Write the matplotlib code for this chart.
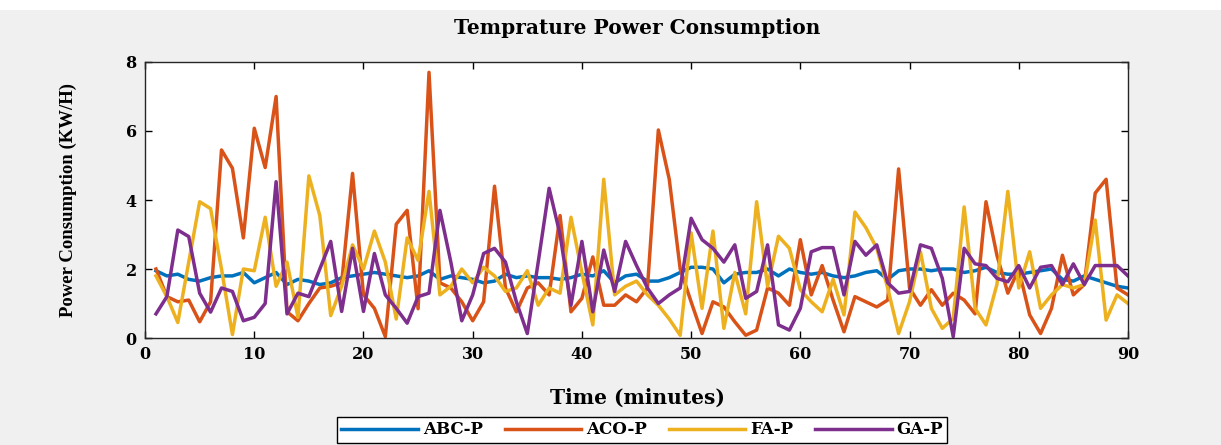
import numpy as np
import matplotlib.pyplot as plt
from matplotlib.patches import Rectangle

# time axis (minutes)
t = np.arange(1, 91)

abc_p = [1.95, 1.8, 1.85, 1.7, 1.65, 1.75, 1.8, 1.8, 1.9, 1.6,
         1.75, 1.9, 1.55, 1.7, 1.65, 1.55, 1.6, 1.75, 1.8, 1.85,
         1.9, 1.85, 1.8, 1.75, 1.8, 1.95, 1.7, 1.8, 1.75, 1.7,
         1.6, 1.65, 1.85, 1.75, 1.8, 1.75, 1.75, 1.7, 1.75, 1.85,
         1.8, 1.95, 1.6, 1.8, 1.85, 1.65, 1.65, 1.75, 1.9, 2.05,
         2.05, 2.0, 1.6, 1.85, 1.9, 1.9, 2.0, 1.8, 2.0, 1.9,
         1.85, 1.9, 1.8, 1.75, 1.8, 1.9, 1.95, 1.7, 1.95, 2.0,
         2.0, 1.95, 2.0, 2.0, 1.9, 1.95, 2.05, 1.9, 1.85, 1.85,
         1.9, 1.95, 2.0, 1.7, 1.65, 1.8, 1.7, 1.6, 1.5, 1.45]

aco_p = [2.0, 1.2, 1.05, 1.1, 0.47, 1.05, 5.45, 4.92, 2.9, 6.08,
         4.94, 7.0, 0.76, 0.5, 1.0, 1.45, 1.5, 1.6, 4.77, 1.25,
         0.86, 0.04, 3.3, 3.7, 0.85, 7.7, 1.6, 1.45, 1.05, 0.5,
         1.05, 4.4, 1.45, 0.76, 1.45, 1.6, 1.25, 3.55, 0.76, 1.15,
         2.35, 0.95, 0.95, 1.25, 1.05, 1.45, 6.03, 4.6, 2.0, 1.05,
         0.13, 1.05, 0.9, 0.47, 0.08, 0.23, 1.45, 1.3, 0.95, 2.85,
         1.25, 2.1, 1.1, 0.18, 1.2, 1.05, 0.9, 1.1, 4.9, 1.45,
         0.95, 1.4, 0.95, 1.3, 1.1, 0.7, 3.95, 2.4, 1.3, 2.0,
         0.67, 0.13, 0.86, 2.4, 1.25, 1.55, 4.2, 4.6, 1.45, 1.25]

fa_p = [1.8, 1.2, 0.45, 2.2, 3.95, 3.75, 2.0, 0.1, 2.0, 1.95,
        3.5, 1.5, 2.2, 0.6, 4.7, 3.55, 0.65, 1.5, 2.7, 2.0,
        3.1, 2.2, 0.55, 2.9, 2.25, 4.25, 1.25, 1.5, 2.0, 1.6,
        2.05, 1.8, 1.35, 1.45, 1.95, 0.95, 1.45, 1.3, 3.5, 1.9,
        0.38, 4.6, 1.25, 1.5, 1.65, 1.25, 0.95, 0.55, 0.08, 3.05,
        0.86, 3.1, 0.28, 1.9, 0.7, 3.95, 1.5, 2.95, 2.6, 1.4,
        1.05, 0.76, 1.7, 0.67, 3.65, 3.2, 2.6, 1.45, 0.13, 1.05,
        2.5, 0.86, 0.28, 0.57, 3.8, 0.86, 0.38, 1.55, 4.25, 1.45,
        2.5, 0.86, 1.25, 1.55, 1.45, 1.55, 3.42, 0.52, 1.25, 1.0]

ga_p = [0.7, 1.2, 3.13, 2.94, 1.3, 0.75, 1.45, 1.35, 0.5, 0.6,
        1.0, 4.53, 0.7, 1.3, 1.2, 2.0, 2.8, 0.77, 2.6, 0.77,
        2.45, 1.25, 0.86, 0.43, 1.2, 1.3, 3.7, 2.2, 0.5, 1.25,
        2.45, 2.6, 2.2, 1.05, 0.13, 2.2, 4.34, 3.0, 0.95, 2.8,
        0.76, 2.55, 1.35, 2.8, 2.1, 1.45, 1.0, 1.25, 1.45, 3.47,
        2.85, 2.6, 2.2, 2.7, 1.15, 1.35, 2.7, 0.38, 0.23, 0.86,
        2.5, 2.62, 2.62, 1.25, 2.8, 2.4, 2.7, 1.6, 1.3, 1.35,
        2.7, 2.6, 1.73, 0.04, 2.6, 2.15, 2.1, 1.73, 1.63, 2.1,
        1.45, 2.05, 2.1, 1.55, 2.15, 1.55, 2.1, 2.1, 2.1, 1.8]

series = [("ABC-P", abc_p, "#0072BD"),
          ("ACO-P", aco_p, "#D95319"),
          ("FA-P", fa_p, "#EDB120"),
          ("GA-P", ga_p, "#7E2F8E")]

# the screenshot is stretched sideways, so horizontal text uses a wide serif
wide = ['DejaVu Serif']
narrow = ['Liberation Serif', 'DejaVu Serif']
plt.rcParams['font.family'] = wide
plt.rcParams['font.weight'] = 'bold'

fig = plt.figure(figsize=(12.21, 4.45), dpi=100, facecolor="#F0F0F0")
# white strip along the top of the screenshot
fig.patches.append(Rectangle((0, 0.978), 1, 0.03, transform=fig.transFigure,
                             facecolor="white", edgecolor="none", zorder=-1))

ax = fig.add_axes([0.1188, 0.2404, 0.8050, 0.6203])
for name, vals, col in series:
    ax.plot(t, vals, color=col, lw=2.5, label=name)

ax.set_xlim(0, 90)
ax.set_ylim(0, 8)
ax.set_xticks(np.arange(0, 91, 10))
ax.set_yticks(np.arange(0, 9, 2))
ax.tick_params(direction="in", top=True, right=True, length=5, width=1,
               labelsize=11.5, pad=6)
for lab in ax.get_xticklabels() + ax.get_yticklabels():
    lab.set_fontweight("bold")
for sp in ax.spines.values():
    sp.set_linewidth(1)
    sp.set_color("#262626")

fig.text(0.522, 0.938, "Temprature Power Consumption", ha="center", va="center",
         fontsize=14.5, fontweight="bold")
fig.text(0.522, 0.105, "Time (minutes)", ha="center", va="center",
         fontsize=14.5, fontweight="bold")
fig.text(0.056, 0.55, "Power Consumption (KW/H)", ha="center", va="center",
         rotation=90, fontsize=13.5, fontweight="bold", family=narrow)

leg = fig.legend(loc="center", bbox_to_anchor=(0.526, 0.034), ncol=4,
                 fontsize=12, frameon=True, fancybox=False, framealpha=1,
                 edgecolor="black", handlelength=4.6, columnspacing=1.3,
                 borderpad=0.25, handletextpad=0.3)
leg.get_frame().set_linewidth(1)
for line in leg.get_lines():
    line.set_linewidth(2.5)
for txt in leg.get_texts():
    txt.set_fontweight("bold")

fig.savefig("out.png", dpi=100, facecolor=fig.get_facecolor())
